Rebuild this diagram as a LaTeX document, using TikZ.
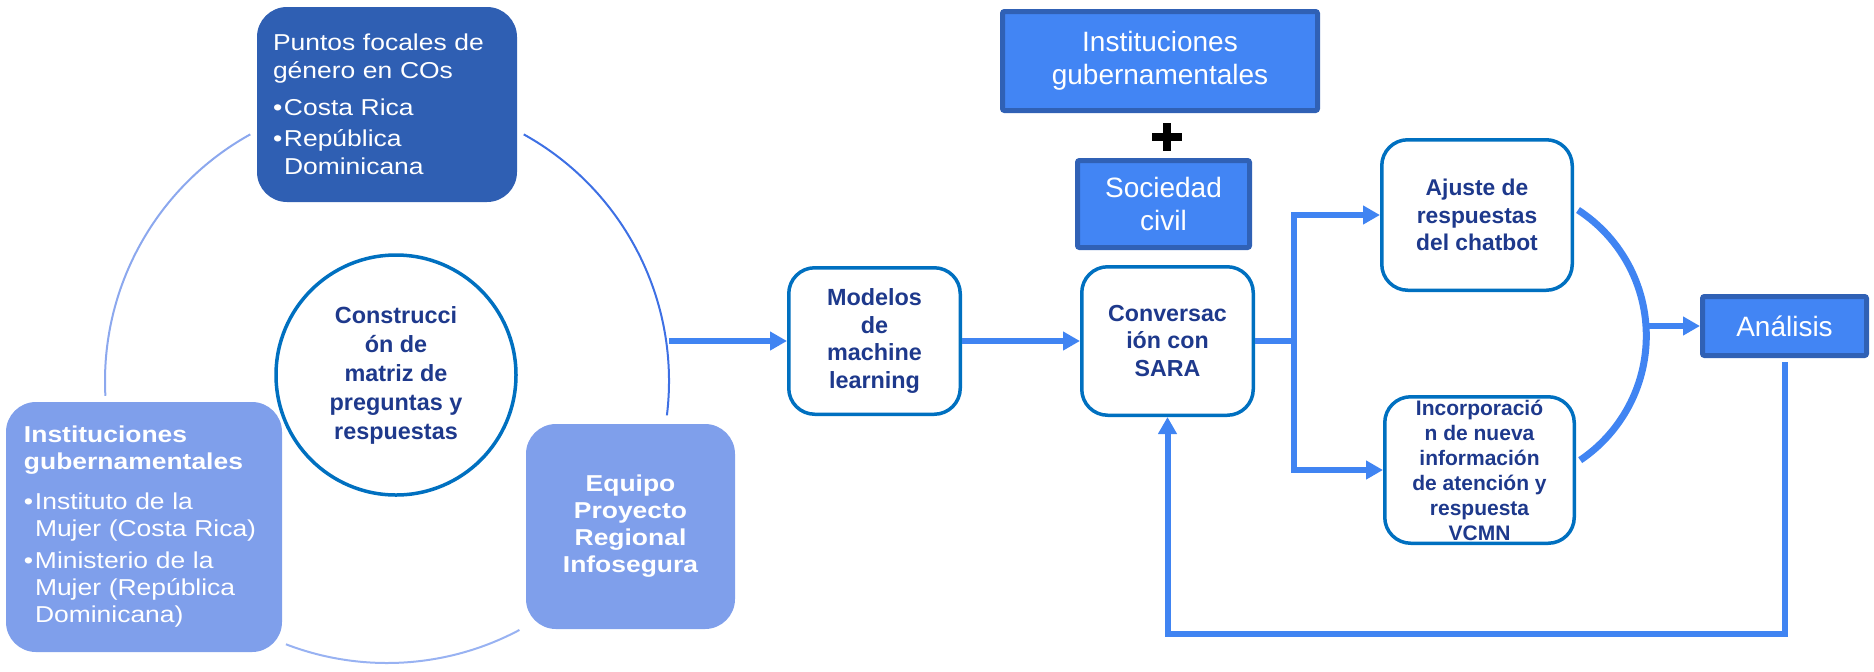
\documentclass[tikz,border=0pt]{standalone}
\usepackage{fontspec}
\setmainfont{Liberation Sans}
\newfontfamily\widesf{Liberation Sans}[FakeStretch=1.15]
\usepackage{xcolor}
\usepackage{tikz}
\usetikzlibrary{arrows.meta}
\usetikzlibrary{positioning}
\definecolor{navy}{RGB}{30,57,140}
\definecolor{boxline}{RGB}{0,112,192}
\definecolor{flowblue}{RGB}{64,132,242}
\definecolor{gblue}{RGB}{66,133,244}
\definecolor{gedge}{RGB}{48,97,181}
\definecolor{deepblue}{RGB}{47,95,179}
\definecolor{softblue}{RGB}{127,159,235}
\definecolor{ringleft}{RGB}{140,168,238}
\definecolor{ringright}{RGB}{62,112,228}
\definecolor{ringbottom}{RGB}{152,178,242}
\newcommand{\bul}{\makebox[5.5pt][l]{\textbullet}}
\newcommand{\bulind}{\hspace*{5.5pt}}
\tikzset{>=latex}
\tikzstyle{procbox} = [rectangle, rounded corners=13pt, draw=boxline, line width=1.75pt, fill=white, text=navy, align=center, inner sep=0pt]
\tikzstyle{gbox} = [rectangle, rounded corners=1pt, draw=gedge, line width=2.5pt, fill=gblue, text=white, align=center, inner sep=0pt, font=\fontsize{14}{16.5}\selectfont]
\tikzstyle{softbox} = [rectangle, rounded corners=15pt, fill=softblue, text=white, inner sep=0pt]
\tikzstyle{flow} = [draw=flowblue, line width=3pt]
\tikzstyle{flowarrow} = [flow, -{Triangle[length=8.5pt, width=9pt]}]

\begin{document}
\begin{tikzpicture}[x=0.5pt, y=-0.5pt]
\useasboundingbox (0,0) rectangle (1874,671);
% ring behind the three partners
\coordinate (ringc) at (387,381);
\draw [draw=ringleft, line width=1pt] (ringc) ++(-119:282) arc [start angle=-119, end angle=-183, radius=282];
\draw [draw=ringright, line width=1pt] (ringc) ++(-61:282) arc [start angle=-61, end angle=7, radius=282];
\draw [draw=ringbottom, line width=1pt] (ringc) ++(62:282) arc [start angle=62, end angle=111, radius=282];

\node [softbox, fill=deepblue, minimum width=130pt, minimum height=97.5pt, text width=114pt, align=left, font=\widesf\fontsize{11.5}{14}\selectfont] (puntos) at (387,104.5) {Puntos focales de\\ género en COs\\[4.5pt] \bul Costa Rica\\[1.5pt] \bul República\\ \bulind Dominicana};
\node [softbox, minimum width=138pt, minimum height=125pt, text width=120pt, align=left, font=\widesf\fontsize{11.5}{13.5}\selectfont] (gob) at (144,527) {\textbf{Instituciones}\\ \textbf{gubernamentales}\\[6.5pt] \bul Instituto de la\\ \bulind Mujer (Costa Rica)\\[2.5pt] \bul Ministerio de la\\ \bulind Mujer (República\\ \bulind Dominicana)};
\node [softbox, minimum width=104.5pt, minimum height=102.5pt, align=center, font=\widesf\bfseries\fontsize{11.5}{13.5}\selectfont] (equipo) at (630.5,526.5) {Equipo\\ Proyecto\\ Regional\\ Infosegura};
\node [circle, draw=boxline, line width=1.75pt, fill=white, text=navy, minimum size=120pt, inner sep=0pt, align=center, font=\bfseries\fontsize{11.7}{14.5}\selectfont] (matriz) at (396,375) {Construcci\\ ón de\\ matriz de\\ preguntas y\\ respuestas};

\coordinate (ringout) at (669,341);
\node [procbox, minimum width=85.75pt, minimum height=73.25pt, font=\bfseries\fontsize{11.7}{13.75}\selectfont] (modelos) at (874.5,341) {Modelos\\ de\\ machine\\ learning};
\node [procbox, minimum width=85.75pt, minimum height=74.25pt, font=\bfseries\fontsize{11.6}{13.75}\selectfont] (conv) at (1167.5,341) {Conversac\\ ión con\\ SARA};

\node [gbox, minimum width=157.5pt, minimum height=49.5pt] (instit) at (1160,61) {Instituciones\\ gubernamentales};
\node [inner sep=0pt, minimum width=14.5pt, minimum height=13.5pt] (plus) at (1167,137) {};
\node [gbox, minimum width=86pt, minimum height=43.5pt] (sociedad) at (1163.5,204) {Sociedad\\ civil};
\draw [line width=4pt] (plus.west) -- (plus.east) (plus.north) -- (plus.south);

\node [procbox, minimum width=95.25pt, minimum height=75.25pt, font=\bfseries\fontsize{11.4}{13.75}\selectfont] (ajuste) at (1477,215) {Ajuste de\\ respuestas\\ del chatbot};
\node [procbox, minimum width=94.75pt, minimum height=73.25pt, font=\bfseries\fontsize{10.5}{12.5}\selectfont] (incorp) at (1479.5,470) {Incorporació\\ n de nueva\\ información\\ de atención y\\ respuesta\\ VCMN};
\node [gbox, minimum width=82pt, minimum height=29.5pt] (analisis) at (1784.5,326) {Análisis};

% flow
\coordinate (split) at (1294,341);
\coordinate (arctop) at (1578,210);
\coordinate (merge) at (1647.5,326);
\coordinate (loop) at (1784.5,634);
\draw [flowarrow] (ringout) -- (modelos.west);
\draw [flowarrow] (modelos.east) -- (conv.west);
\draw [flow] (conv.east) -- (split);
\draw [flowarrow] (split) |- (ajuste.west);
\draw [flowarrow] (split) |- (incorp.west);
\draw [flow, line width=3.5pt] (arctop) arc [start angle=-57, end angle=56, radius=150];
\draw [flowarrow] (merge) -- (analisis.west);
\draw [flowarrow] ([yshift=-2pt]analisis.south) -- (loop) -| (conv.south);
\end{tikzpicture}
\end{document}
